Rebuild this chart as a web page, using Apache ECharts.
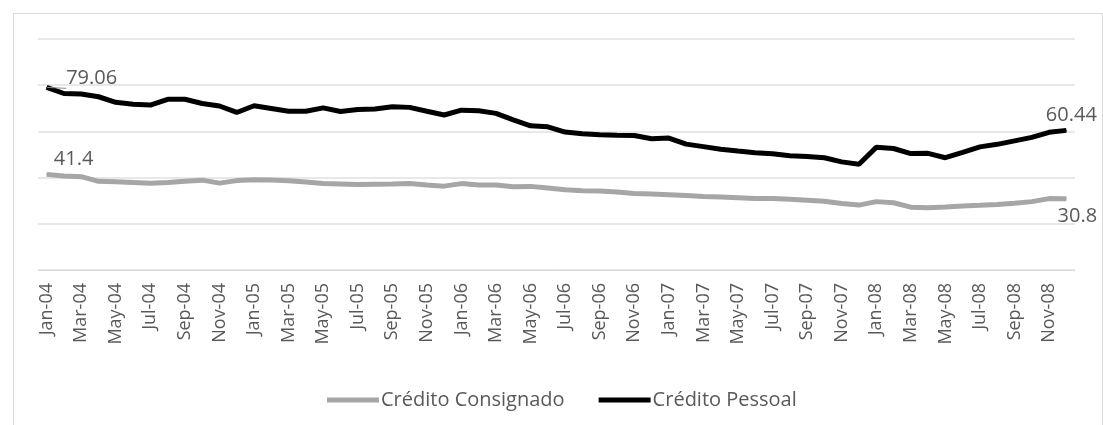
<!DOCTYPE html>
<html>
<head>
<meta charset="utf-8">
<script src="https://cdn.jsdelivr.net/npm/echarts@6/dist/echarts.min.js"></script>
<style>
  html, body { margin: 0; padding: 0; background: #fff; }
  #chart { width: 1103px; height: 425px; }
</style>
</head>
<body>
<div id="chart"></div>
<script>
// months Jan-04 .. Dec-08
const monthNames = ['Jan', 'Feb', 'Mar', 'Apr', 'May', 'Jun', 'Jul', 'Aug', 'Sep', 'Oct', 'Nov', 'Dec'];
const years = ['04', '05', '06', '07', '08'];
const categories = [];
years.forEach(y => monthNames.forEach(m => categories.push(m + '-' + y)));

const consignado = [
  41.4, 40.7, 40.4, 38.4, 38.2, 37.9, 37.6, 37.9, 38.4, 38.9, 37.6, 38.7,
  39.1, 39.0, 38.6, 38.1, 37.4, 37.2, 37.0, 37.1, 37.2, 37.4, 36.8, 36.3,
  37.4, 36.8, 36.8, 36.0, 36.2, 35.5, 34.7, 34.3, 34.2, 33.8, 33.1, 32.9,
  32.6, 32.2, 31.8, 31.6, 31.3, 31.0, 30.9, 30.6, 30.2, 29.8, 28.8, 28.1,
  29.6, 29.1, 27.2, 27.0, 27.3, 27.7, 28.0, 28.4, 28.9, 29.6, 30.9, 30.8
];

const pessoal = [
  79.06, 76.4, 76.2, 75.0, 72.6, 71.8, 71.4, 73.9, 73.9, 72.1, 71.0, 68.2,
  71.1, 69.9, 68.7, 68.7, 70.2, 68.6, 69.5, 69.7, 70.7, 70.4, 68.7, 67.1,
  69.2, 68.9, 67.8, 65.0, 62.4, 62.0, 59.7, 59.0, 58.6, 58.3, 58.2, 56.8,
  57.1, 54.5, 53.4, 52.3, 51.5, 50.8, 50.3, 49.5, 49.1, 48.6, 46.8, 45.8,
  53.1, 52.6, 50.4, 50.5, 48.6, 50.9, 53.3, 54.4, 55.9, 57.4, 59.6, 60.44
];

const seriesNames = ['Crédito Consignado', 'Crédito Pessoal'];

const textColor = '#595959';
const fontFamily = '"Open Sans", sans-serif';

// labels only on the first and last point (tiny symbol so the label gets drawn)
const withEndLabels = (arr, first, last, firstLine) => arr.map((v, i) => {
  if (i === 0) return { value: v, symbolSize: 1, label: first, labelLine: { show: !!firstLine, lineStyle: { color: '#8c8c8c', width: 1 } } };
  if (i === arr.length - 1) return { value: v, symbolSize: 1, label: last, labelLine: { show: false } };
  return v;
});

const labelBase = { show: true, color: textColor, fontSize: 20, fontFamily: fontFamily };

const chart = echarts.init(document.getElementById('chart'));
chart.setOption({
  animation: false,
  backgroundColor: '#fff',
  graphic: [{
    type: 'rect',
    left: 11, top: 11,
    shape: { width: 1089, height: 430 },
    style: { fill: 'none', stroke: '#d9d9d9', lineWidth: 1 },
    silent: true
  }],
  grid: { left: 38, right: 28, top: 39, height: 231 },
  legend: {
    data: seriesNames.map(n => ({ name: n, icon: 'rect' })),
    left: 322,
    top: 385,
    itemWidth: 52,
    itemHeight: 5,
    itemGap: 34,
    textStyle: { color: textColor, fontSize: 20, fontFamily: fontFamily, padding: [0, 0, 0, -3] }
  },
  xAxis: {
    type: 'category',
    data: categories,
    boundaryGap: true,
    axisLine: { lineStyle: { color: '#d9d9d9', width: 1 } },
    axisTick: { interval: 1, length: 6, lineStyle: { color: '#d9d9d9' } },
    axisLabel: {
      interval: 1,
      rotate: 90,
      margin: 13,
      color: textColor,
      fontSize: 18,
      fontFamily: fontFamily
    },
    splitLine: { show: false }
  },
  yAxis: {
    type: 'value',
    min: 0,
    max: 100,
    interval: 20,
    axisLabel: { show: false },
    axisLine: { show: false },
    axisTick: { show: false },
    splitLine: { lineStyle: { color: '#e0e0e0', width: 1.5 } }
  },
  series: [
    {
      name: seriesNames[0],
      type: 'line',
      showSymbol: true,
      symbol: 'circle',
      symbolSize: 0,
      z: 2,
      color: '#a6a6a6',
      itemStyle: { color: '#a6a6a6' },
      lineStyle: { color: '#a6a6a6', width: 5 },
      data: withEndLabels(consignado,
        Object.assign({}, labelBase, { position: 'top', offset: [27, 0] }),
        Object.assign({}, labelBase, { position: 'bottom', offset: [11, 2] }),
        false)
    },
    {
      name: seriesNames[1],
      type: 'line',
      showSymbol: true,
      symbol: 'circle',
      symbolSize: 0,
      z: 3,
      color: '#000',
      itemStyle: { color: '#000' },
      lineStyle: { color: '#000', width: 5 },
      data: withEndLabels(pessoal,
        Object.assign({}, labelBase, { position: 'right', offset: [14, -9] }),
        Object.assign({}, labelBase, { position: 'top', offset: [5, 0] }),
        true)
    }
  ]
});
</script>
</body>
</html>
